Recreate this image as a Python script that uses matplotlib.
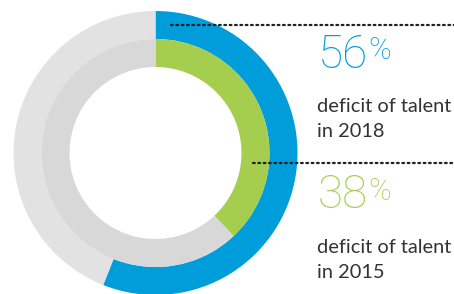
import matplotlib.pyplot as plt

years = ["2018", "2015"]
deficits = [56, 38]
colors = ["#009ddb", "#a5cd4e"]
rest_colors = ["#e1e2e1", "#d8d8d8"]

W, H = 454, 294
fig = plt.figure(figsize=(W / 100, H / 100), dpi=100)
ax = fig.add_axes([0, 0, 1, 1])

cx, cy = 155.5, H - 153
radii = [142, 114]
ring_w = 28

for val, col, rest, r in zip(deficits, colors, rest_colors, radii):
    ax.pie([val, 100 - val], colors=[col, rest], startangle=90, counterclock=False,
           radius=r, center=(cx, cy), wedgeprops=dict(width=ring_w, linewidth=0))

ax.set_xlim(0, W)
ax.set_ylim(0, H)
ax.set_aspect("equal")
ax.axis("off")

# dotted leader lines
ax.plot([171, W], [H - 24.5, H - 24.5], color="#222222", lw=1.6,
        linestyle=(0, (0.8, 1.6)), dash_capstyle="round")
ax.plot([253, W], [H - 162.5, H - 162.5], color="#222222", lw=1.6,
        linestyle=(0, (0.8, 1.6)), dash_capstyle="round")

num_font = "Roboto"
body_font = "Lato"
tops = [38, 179]
fig.canvas.draw()
r = fig.canvas.get_renderer()
for val, col, yr, top in zip(deficits, colors, years, tops):
    t = ax.text(318, H - top - 29.5, str(val), color=col, fontsize=33, family=num_font,
                fontweight="light", va="baseline", ha="left")
    bb = t.get_window_extent(renderer=r)
    ax.text(bb.x1 + 0.5, H - top - 21, "%", color=col, fontsize=22, family=num_font,
            fontweight="light", va="baseline", ha="left")
    ax.text(317, H - top - 74, "deficit of talent", color="#333333", fontsize=14.4,
            family=body_font, va="baseline", ha="left")
    ax.text(317, H - top - 99, "in " + yr, color="#333333", fontsize=14.4,
            family=body_font, va="baseline", ha="left")

fig.savefig("out.png", dpi=100)
